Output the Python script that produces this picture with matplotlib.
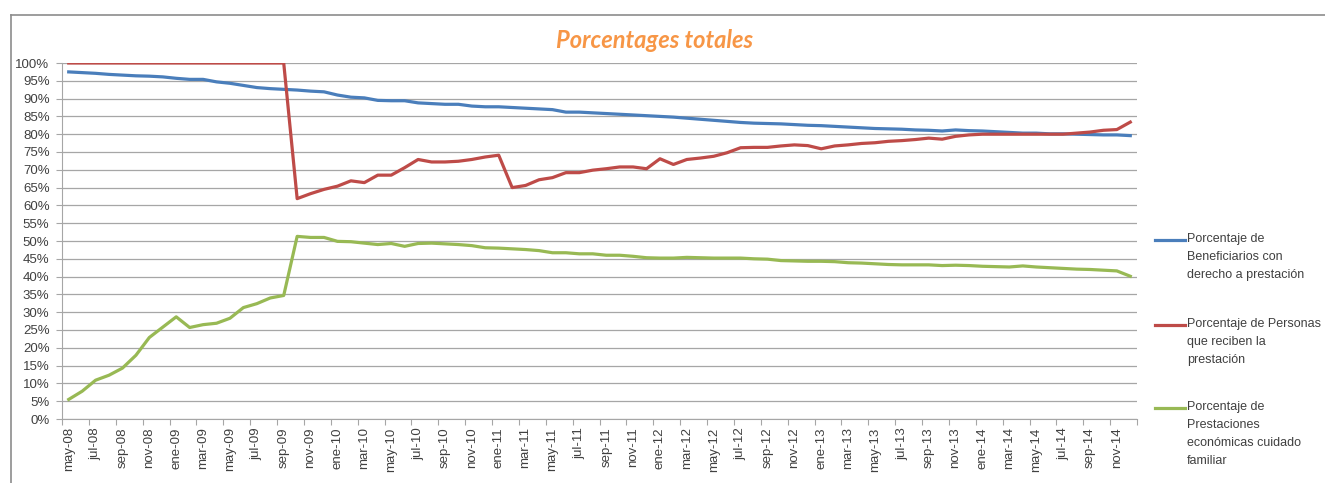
import matplotlib.pyplot as plt
import numpy as np
from matplotlib.lines import Line2D

# Monthly series, may-08 .. dic-14
meses = ["ene", "feb", "mar", "abr", "may", "jun", "jul", "ago", "sep", "oct", "nov", "dic"]
fechas = []
for anio in range(8, 15):
    for m, nombre in enumerate(meses):
        if anio == 8 and m < 4:
            continue
        fechas.append(f"{nombre}-{anio:02d}")

beneficiarios = [
    97.5, 97.3, 97.1, 96.8, 96.6, 96.4, 96.3, 96.1, 95.7, 95.4,
    95.4, 94.7, 94.3, 93.7, 93.1, 92.8, 92.6, 92.4, 92.1, 91.9,
    91.0, 90.4, 90.2, 89.5, 89.4, 89.4, 88.8, 88.6, 88.4, 88.4,
    87.9, 87.7, 87.7, 87.5, 87.3, 87.1, 86.9, 86.2, 86.2, 86.0,
    85.8, 85.6, 85.4, 85.2, 85.0, 84.8, 84.5, 84.2, 83.9, 83.6,
    83.3, 83.1, 83.0, 82.9, 82.7, 82.5, 82.4, 82.2, 82.0, 81.8,
    81.6, 81.5, 81.4, 81.2, 81.1, 80.9, 81.2, 81.0, 80.9, 80.7,
    80.5, 80.3, 80.3, 80.1, 80.1, 80.0, 79.9, 79.8, 79.8, 79.6,
]
personas = [
    100, 100, 100, 100, 100, 100, 100, 100, 100, 100,
    100, 100, 100, 100, 100, 100, 100, 61.9, 63.3, 64.5,
    65.4, 66.9, 66.4, 68.5, 68.5, 70.6, 72.9, 72.2, 72.2, 72.4,
    72.9, 73.6, 74.1, 65.0, 65.6, 67.2, 67.8, 69.2, 69.2, 69.9,
    70.3, 70.8, 70.8, 70.3, 73.1, 71.5, 72.9, 73.3, 73.8, 74.8,
    76.2, 76.3, 76.3, 76.7, 77.0, 76.8, 75.9, 76.7, 77.0, 77.4,
    77.6, 78.0, 78.2, 78.5, 78.9, 78.6, 79.4, 79.8, 80.0, 80.0,
    80.0, 80.0, 80.0, 80.0, 80.0, 80.3, 80.6, 81.1, 81.3, 83.4,
]
cuidado_familiar = [
    5.5, 7.8, 10.9, 12.3, 14.3, 17.9, 22.9, 25.8, 28.7, 25.7,
    26.5, 26.9, 28.3, 31.3, 32.4, 34.0, 34.7, 51.3, 51.0, 51.0,
    49.9, 49.8, 49.4, 49.0, 49.3, 48.5, 49.3, 49.4, 49.2, 49.0,
    48.7, 48.1, 48.0, 47.8, 47.6, 47.3, 46.7, 46.7, 46.4, 46.4,
    46.0, 46.0, 45.7, 45.3, 45.2, 45.2, 45.4, 45.3, 45.2, 45.2,
    45.2, 45.0, 44.9, 44.5, 44.4, 44.3, 44.3, 44.2, 43.9, 43.8,
    43.6, 43.4, 43.3, 43.3, 43.3, 43.1, 43.2, 43.1, 42.9, 42.8,
    42.7, 43.0, 42.7, 42.5, 42.3, 42.1, 42.0, 41.8, 41.6, 40.1,
]

etiquetas = [
    "Porcentaje de\nBeneficiarios con\nderecho a prestación",
    "Porcentaje de Personas\nque reciben la\nprestación",
    "Porcentaje de\nPrestaciones\neconómicas cuidado\nfamiliar",
]
colores = ["#4A7EBB", "#BE4B48", "#98B954"]

plt.rcParams["font.family"] = ["Liberation Sans", "DejaVu Sans"]

fig = plt.figure(figsize=(13.25, 4.83), dpi=100)
ax = fig.add_axes([62 / 1325, 1 - 419 / 483, (1137 - 62) / 1325, (419 - 63) / 483])

x = np.arange(len(fechas))
for serie, color in zip([beneficiarios, personas, cuidado_familiar], colores):
    ax.plot(x, serie, color=color, lw=2.3, solid_joinstyle="round")

ax.set_xlim(-0.5, len(fechas) - 0.5)
ax.set_ylim(0, 100)
ax.set_yticks(np.arange(0, 101, 5))
ax.set_yticklabels([f"{v}%" for v in range(0, 101, 5)], fontsize=9.5, color="#404040")
ax.yaxis.grid(True, color="#A6A6A6", lw=0.9)
ax.set_axisbelow(True)

ax.set_xticks(np.arange(-0.5, len(fechas), 2))
ax.set_xticklabels([])
ax.set_xticks(x[::2], minor=True)
ax.set_xticklabels(fechas[::2], minor=True, rotation=90, fontsize=9.5, color="#404040")
ax.tick_params(axis="x", which="major", length=4, color="#A6A6A6", direction="out")
ax.tick_params(axis="x", which="minor", length=0, pad=6)
ax.tick_params(axis="y", length=4, color="#A6A6A6", pad=5)

for s in ["top", "right"]:
    ax.spines[s].set_visible(False)
ax.spines["left"].set_color("#A6A6A6")
ax.spines["bottom"].set_color("#A6A6A6")

fig.text(0.494, 0.917, "Porcentages totales", ha="center", va="center",
         fontsize=17, fontweight="bold", fontstyle="italic", color="#F79646",
         family=["Lato", "DejaVu Sans"])

# legend, drawn to the right of the plot
ys = [240, 325, 408]
for etiqueta, color, yp in zip(etiquetas, colores, ys):
    fy = 1 - yp / 483
    fig.add_artist(Line2D([1155 / 1325, 1185 / 1325], [fy, fy], color=color, lw=2.3))
    fig.text(1187 / 1325, fy + 7 / 483, etiqueta, ha="left", va="top", fontsize=9,
             color="#404040", linespacing=1.65)

# chart area border (top and left)
fig.add_artist(Line2D([11 / 1325, 1], [1 - 15 / 483, 1 - 15 / 483], color="#8C8C8C", lw=1.2))
fig.add_artist(Line2D([11 / 1325, 11 / 1325], [0, 1 - 15 / 483], color="#8C8C8C", lw=1.2))

plt.savefig("out.png", dpi=100)
